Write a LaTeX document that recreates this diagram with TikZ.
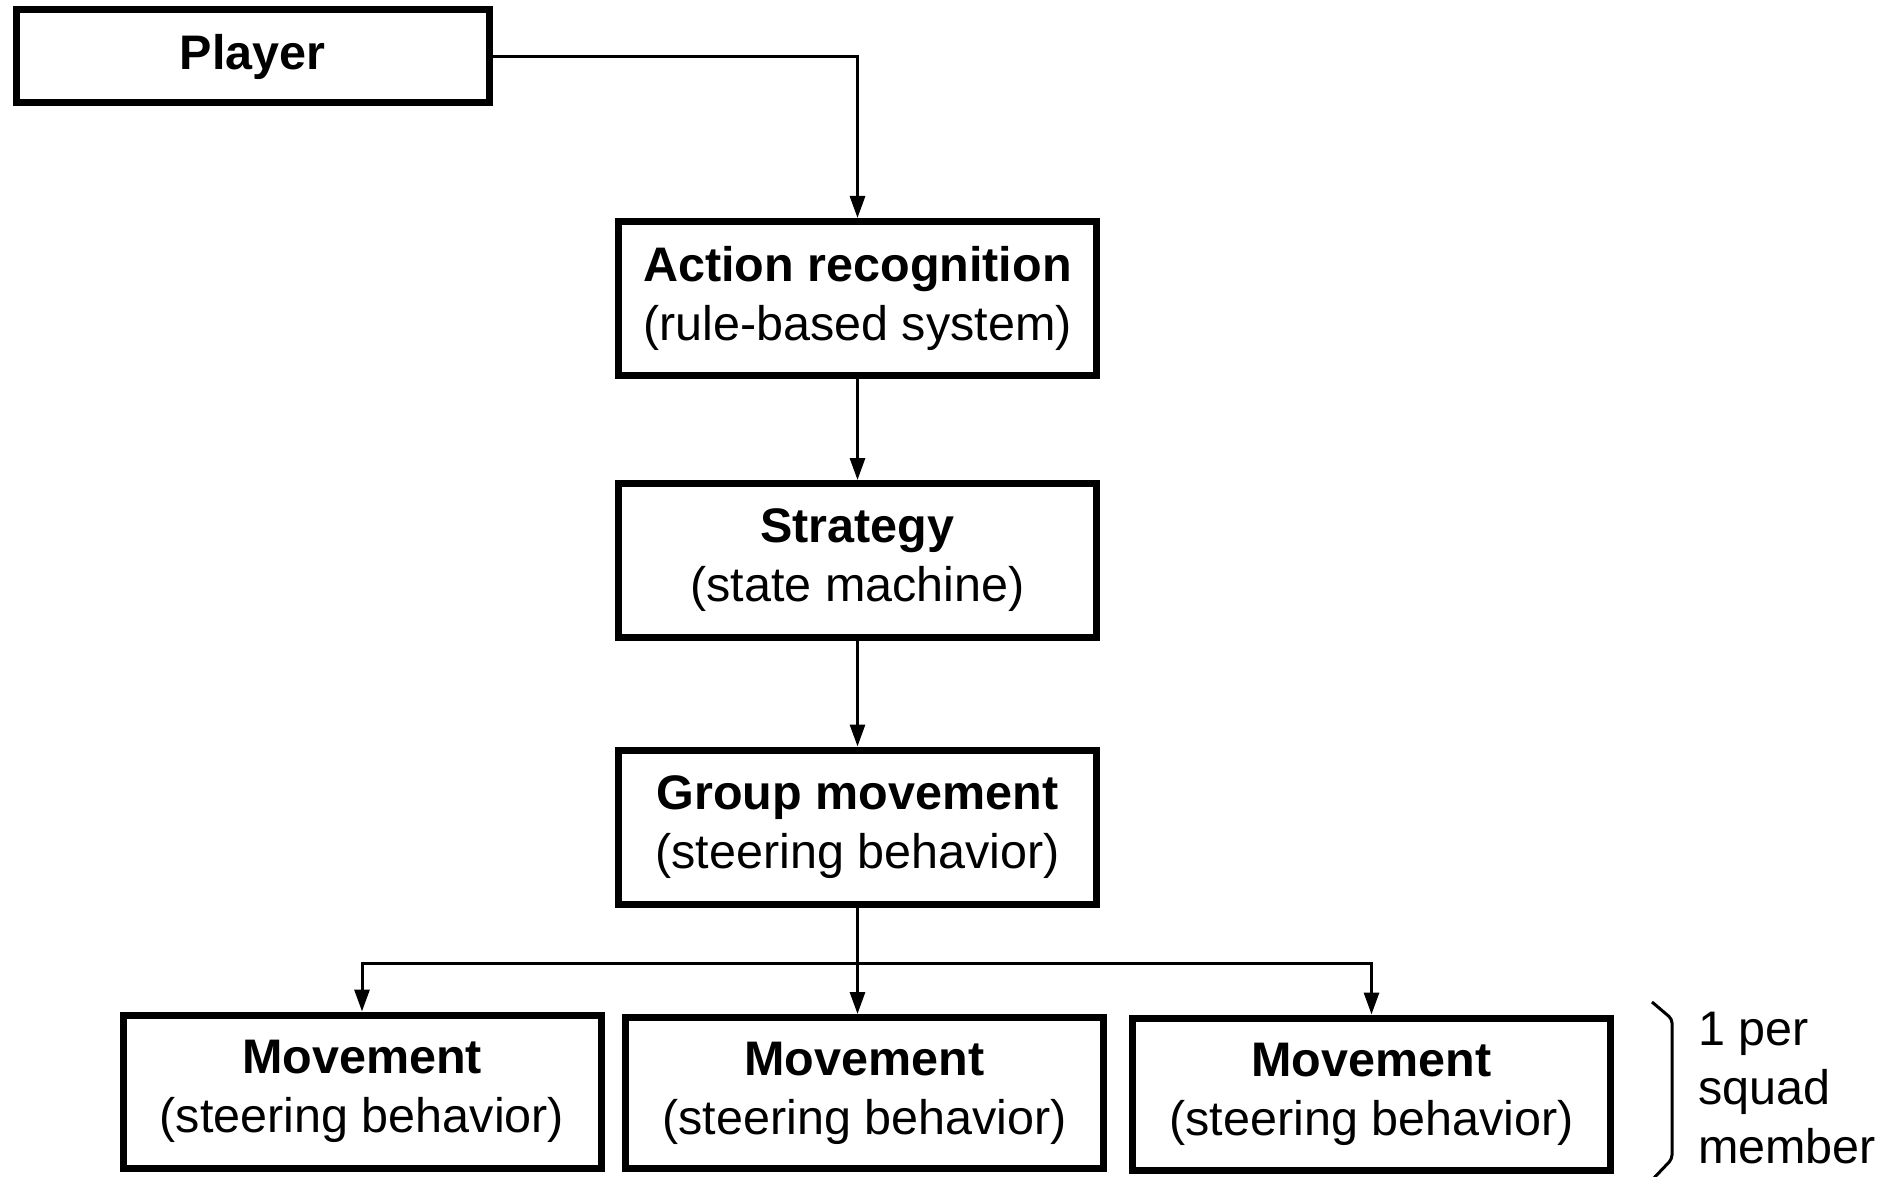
\documentclass[tikz,border=0pt]{standalone}
\usepackage{fontspec}
\setmainfont{Liberation Sans}
\usetikzlibrary{arrows.meta}

\begin{document}
\begin{tikzpicture}[x=1pt, y=-1pt,
  every node/.style={font=\fontsize{48.5}{59}\selectfont},
  stage/.style={draw, line width=7pt, rectangle, align=center,
    inner sep=0pt, minimum width=478pt, minimum height=154pt},
  link/.style={line width=3pt},
  flow/.style={link, -{Triangle[length=22pt, width=15pt]}},
]
\useasboundingbox (0,0) rectangle (1888,1177);

% boxes
\node[stage, minimum width=473pt, minimum height=93pt] (player) at (252.5,56.5) {\textbf{Player}};
\node[stage] (action)   at (857.5,298.5) {\textbf{Action recognition}\\(rule-based system)};
\node[stage] (strategy) at (857.5,560.5) {\textbf{Strategy}\\(state machine)};
\node[stage] (group)    at (857.5,827)   {\textbf{Group movement}\\(steering behavior)};
\node[stage, minimum height=153pt] (mov1) at (362,1091.5)   {\textbf{Movement}\\(steering behavior)};
\node[stage, minimum height=151pt] (mov2) at (864.5,1093)   {\textbf{Movement}\\(steering behavior)};
\node[stage, minimum height=152pt] (mov3) at (1371.5,1094)  {\textbf{Movement}\\(steering behavior)};

% vertical chain
\draw[flow] (player.east) -| (action.north);
\draw[flow] (action.south) -- (strategy.north);
\draw[flow] (strategy.south) -- (group.north);

% fan-out to squad members
\coordinate (bus) at (857.5,963);
\draw[flow] (group.south) -- (group.south |- mov2.north);
\draw[flow] (bus) -| (mov1.north);
\draw[flow] (bus) -| (mov3.north);

% bracket and note
\draw[line width=3pt, rounded corners=4pt]
  (1652,1002) -- (1672,1019) -- (1672,1159) -- (1652,1180);
\node[anchor=west, align=left, inner sep=0pt] (note) at (1698,1088)
  {1 per\\squad\\member};
\end{tikzpicture}
\end{document}
